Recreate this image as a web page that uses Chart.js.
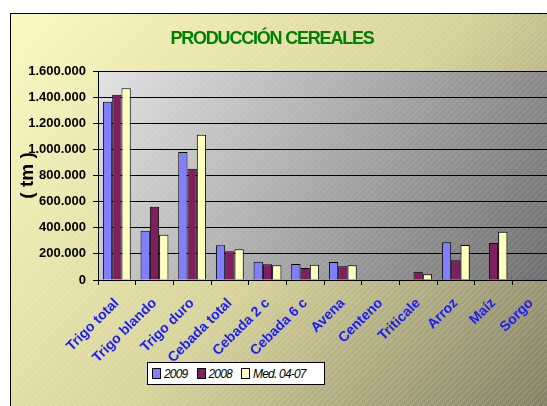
<!DOCTYPE html>
<html lang="es">
  <head>
    <meta charset="UTF-8" />
    <title>Producción cereales</title>
    <script src="https://cdn.jsdelivr.net/npm/chart.js"></script>
    <style>
      body {
        margin: 0;
        overflow: hidden;
        background: #ffffff;
        font-family: "Liberation Sans", Arial, sans-serif;
      }
      .contenedor {
        position: relative;
        width: 560px;
        height: 406px;
      }
      /* leyenda en caja blanca, como en la hoja */
      #leyenda {
        position: absolute;
        left: 147px;
        top: 362px;
        width: 176px;
        height: 21px;
        background: #ffffff;
        border: 1px solid #000;
        display: flex;
        align-items: center;
        font-style: italic;
        font-size: 12px;
        letter-spacing: -0.8px;
      }
      #leyenda span.item {
        display: flex;
        align-items: center;
        margin-left: 4px;
        margin-right: 5px;
      }
      #leyenda span.caja {
        display: inline-block;
        width: 7px;
        height: 9px;
        border: 1px solid #000;
        margin-right: 3px;
      }
    </style>
  </head>
  <body>
    <div class="contenedor">
      <canvas id="graficoCereales"></canvas>
      <div id="leyenda"></div>
    </div>

    <script>
      // categorías y valores (toneladas)
      const cultivos = [
        "Trigo total",
        "Trigo blando",
        "Trigo duro",
        "Cebada total",
        "Cebada 2 c",
        "Cebada 6 c",
        "Avena",
        "Centeno",
        "Triticale",
        "Arroz",
        "Maíz",
        "Sorgo",
      ];
      const prod2009 = [1365000, 377000, 980000, 266000, 140000, 122000, 138000, 0, 0, 289000, 0, 10000];
      const prod2008 = [1418000, 561000, 852000, 220000, 120000, 92000, 105000, 0, 64000, 151000, 283000, 5000];
      const prodMedia = [1467000, 347000, 1112000, 235000, 112000, 117000, 112000, 0, 44000, 268000, 370000, 5000];
      const etiquetasSeries = ["2009", "2008", "Med. 04-07"];
      const coloresSeries = ["#8080ff", "#7f1f5f", "#ffffc0"];
      const titulo = "PRODUCCIÓN CEREALES";

      function formatoMiles(v) {
        return String(v).replace(/\B(?=(\d{3})+(?!\d))/g, ".");
      }

      // patrón de rayas diagonales finas
      function crearRayas(ctx, alfa) {
        const c = document.createElement("canvas");
        c.width = 6;
        c.height = 6;
        const g = c.getContext("2d");
        g.strokeStyle = "rgba(255,255,255," + alfa + ")";
        g.lineWidth = 1;
        g.beginPath();
        g.moveTo(0, 6);
        g.lineTo(6, 0);
        g.stroke();
        return ctx.createPattern(c, "repeat");
      }

      const fondo = {
        id: "fondo",
        beforeDraw(chart) {
          const ctx = chart.ctx;
          const w = chart.width;
          const h = chart.height;
          const a = chart.chartArea;
          ctx.save();
          // marco exterior amarillo
          let grad = ctx.createLinearGradient(10, 13, w, h + 60);
          grad.addColorStop(0, "#fbf9c2");
          grad.addColorStop(0.5, "#d6d29c");
          grad.addColorStop(1, "#77745e");
          ctx.fillStyle = grad;
          ctx.fillRect(10, 13, w - 10, h - 13);
          ctx.fillStyle = crearRayas(ctx, 0.18);
          ctx.fillRect(10, 13, w - 10, h - 13);
          ctx.strokeStyle = "#000";
          ctx.lineWidth = 1;
          ctx.strokeRect(10.5, 13.5, w, h);
          // área de trazado gris
          grad = ctx.createLinearGradient(a.left, a.top, a.right, a.bottom + 80);
          grad.addColorStop(0, "#e2e2e2");
          grad.addColorStop(1, "#666666");
          ctx.fillStyle = grad;
          ctx.fillRect(a.left, a.top, a.right - a.left, a.bottom - a.top);
          ctx.fillStyle = crearRayas(ctx, 0.12);
          ctx.fillRect(a.left, a.top, a.right - a.left, a.bottom - a.top);
          // título verde, letras apretadas
          ctx.fillStyle = "#008000";
          ctx.font = "bold 18px 'Liberation Sans'";
          ctx.letterSpacing = "-1.2px";
          ctx.textAlign = "center";
          ctx.textBaseline = "middle";
          ctx.fillText(titulo, 272, 39);
          ctx.restore();
        },
      };

      const series = [prod2009, prod2008, prodMedia];

      const grafico = new Chart(document.getElementById("graficoCereales"), {
        type: "bar",
        data: {
          labels: cultivos,
          datasets: series.map((datos, i) => ({
            label: etiquetasSeries[i],
            data: datos,
            backgroundColor: coloresSeries[i],
            borderColor: "#000",
            borderWidth: 1,
            categoryPercentage: 0.74,
            barPercentage: 1,
          })),
        },
        options: {
          responsive: true,
          maintainAspectRatio: false,
          animation: false,
          layout: {
            padding: { top: 71, left: 10, right: 10, bottom: 0 },
          },
          plugins: {
            legend: { display: false },
            tooltip: { enabled: false },
            title: { display: false },
          },
          scales: {
            x: {
              grid: {
                drawOnChartArea: false,
                color: "#000",
                tickLength: 5,
              },
              border: { color: "#000" },
              ticks: {
                color: "#1a1aff",
                font: { family: "Liberation Sans", size: 14, weight: "bold" },
                maxRotation: 45,
                minRotation: 45,
                autoSkip: false,
                padding: 10,
              },
              afterFit(scale) {
                scale.height = 126;
              },
            },
            y: {
              min: 0,
              max: 1600000,
              grid: { color: "#000", tickLength: 5 },
              border: { color: "#000" },
              ticks: {
                stepSize: 200000,
                color: "#000",
                font: { family: "Liberation Sans", size: 13, weight: "bold" },
                padding: 7,
                callback: (v) => formatoMiles(v),
              },
              title: {
                display: true,
                text: "( tm )",
                color: "#000",
                font: { family: "Liberation Sans", size: 19, weight: "bold" },
                padding: { top: 6, bottom: 0 },
              },
              afterFit(scale) {
                scale.width = 88;
              },
            },
          },
        },
        plugins: [fondo],
      });

      // leyenda HTML a partir de las series
      const leyenda = document.getElementById("leyenda");
      etiquetasSeries.forEach((nombre, i) => {
        const item = document.createElement("span");
        item.className = "item";
        item.innerHTML =
          '<span class="caja" style="background:' + coloresSeries[i] + '"></span>' + nombre;
        leyenda.appendChild(item);
      });
    </script>
  </body>
</html>
